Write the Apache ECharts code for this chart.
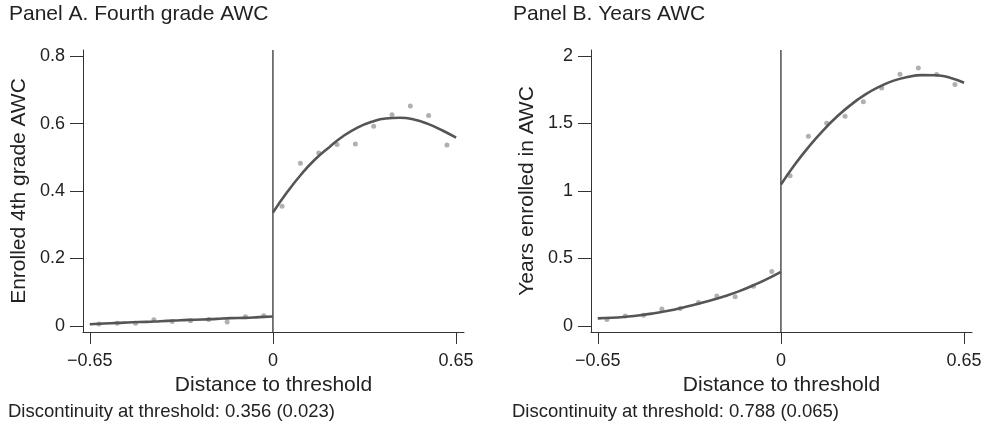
<!DOCTYPE html>
<html>
<head>
<meta charset="utf-8">
<script src="https://cdn.jsdelivr.net/npm/echarts@6/dist/echarts.min.js"></script>
<style>
  html, body { margin: 0; padding: 0; background: #fff; }
  #chart { width: 988px; height: 427px; }
</style>
</head>
<body>
<div id="chart"></div>
<script>
// ---------------- data ----------------
var binLeft  = [-0.6175, -0.5525, -0.4875, -0.4225, -0.3575, -0.2925, -0.2275, -0.1625, -0.0975, -0.0325];
var binRight = [0.0325, 0.0975, 0.1625, 0.2275, 0.2925, 0.3575, 0.4225, 0.4875, 0.5525, 0.6175];

// Panel A: enrolled 4th grade AWC (bin means)
var aLeftY  = [0.006, 0.008, 0.008, 0.018, 0.013, 0.015, 0.019, 0.012, 0.027, 0.030];
var aRightY = [0.355, 0.482, 0.513, 0.538, 0.539, 0.592, 0.626, 0.652, 0.624, 0.536];

// fitted curves, read every 0.05 along the drawn line
var fitLeftX  = [-0.65, -0.6, -0.55, -0.5, -0.45, -0.4, -0.35, -0.3, -0.25, -0.2, -0.15, -0.1, -0.05, 0];
var fitRightX = [0, 0.05, 0.1, 0.15, 0.2, 0.25, 0.3, 0.35, 0.4, 0.45, 0.5, 0.55, 0.6, 0.65];
var aFitLeftY  = [0.005, 0.007, 0.009, 0.011, 0.012, 0.014, 0.016, 0.018, 0.019, 0.021, 0.023, 0.024, 0.026, 0.028];
var aFitRightY = [0.336, 0.396, 0.449, 0.494, 0.530, 0.563, 0.588, 0.605, 0.615, 0.617, 0.612, 0.599, 0.580, 0.558];

// Panel B: years enrolled in AWC (bin means)
var bLeftY  = [0.047, 0.072, 0.079, 0.124, 0.129, 0.173, 0.220, 0.215, 0.292, 0.403];
var bRightY = [1.111, 1.405, 1.501, 1.553, 1.659, 1.761, 1.864, 1.909, 1.862, 1.788];
var bFitLeftY  = [0.055, 0.059, 0.067, 0.078, 0.093, 0.111, 0.134, 0.160, 0.188, 0.219, 0.255, 0.298, 0.346, 0.400];
var bFitRightY = [1.047, 1.196, 1.329, 1.448, 1.552, 1.640, 1.714, 1.772, 1.816, 1.844, 1.857, 1.856, 1.838, 1.800];

var xTicks  = [-0.65, 0, 0.65];
var aYTicks = [0, 0.2, 0.4, 0.6, 0.8];
var bYTicks = [0, 0.5, 1, 1.5, 2];

// ---------------- helpers ----------------
function pairs(xs, ys) {
    var out = [];
    for (var i = 0; i < xs.length; i++) out.push([xs[i], ys[i]]);
    return out;
}

var FONT = '"Liberation Sans", Arial, Helvetica, sans-serif';
var TXT = '#222';
var AXC = '#333';

function xAxisCfg(gridIndex) {
    return {
        gridIndex: gridIndex,
        type: 'value',
        min: -0.674, max: 0.678,
        name: 'Distance to threshold',
        nameLocation: 'middle',
        nameGap: 37,
        nameTextStyle: { fontFamily: FONT, fontSize: 21, color: TXT },
        axisLine: { show: true, onZero: false, lineStyle: { color: AXC, width: 1 } },
        axisTick: { show: true, length: 12, customValues: xTicks, lineStyle: { color: AXC } },
        axisLabel: {
            customValues: xTicks, margin: 20,
            fontFamily: FONT, fontSize: 18, color: TXT,
            formatter: function (v) { return String(v).replace('-', '\u2212'); }
        },
        splitLine: { show: false }
    };
}

function yAxisCfg(gridIndex, min, max, ticks, name) {
    return {
        gridIndex: gridIndex,
        type: 'value',
        min: min, max: max,
        name: name,
        nameLocation: 'middle',
        nameGap: 53,
        nameTextStyle: { fontFamily: FONT, fontSize: 21, color: TXT },
        axisLine: { show: true, onZero: false, lineStyle: { color: AXC, width: 1 } },
        axisTick: { show: true, length: 13, customValues: ticks, lineStyle: { color: AXC } },
        axisLabel: {
            customValues: ticks, margin: 18,
            fontFamily: FONT, fontSize: 18, color: TXT
        },
        splitLine: { show: false }
    };
}

function dots(idx, xs, ys) {
    return {
        type: 'scatter', xAxisIndex: idx, yAxisIndex: idx,
        data: pairs(xs, ys), symbolSize: 5,
        itemStyle: { color: '#9c9c9c' }, z: 3, silent: true
    };
}
function fit(idx, xs, ys) {
    return {
        type: 'line', xAxisIndex: idx, yAxisIndex: idx,
        data: pairs(xs, ys), smooth: true, showSymbol: false,
        lineStyle: { color: '#555', width: 2.6 }, z: 4, silent: true
    };
}
function cutoff(idx, ymin, ymax) {
    return {
        type: 'line', xAxisIndex: idx, yAxisIndex: idx,
        data: [[0, ymin], [0, ymax]], showSymbol: false,
        lineStyle: { color: '#222', width: 1.2 }, z: 2, silent: true
    };
}

var chart = echarts.init(document.getElementById('chart'));

var option = {
    backgroundColor: '#fff',
    animation: false,
    grid: [
        { left: 83, top: 50, width: 381, height: 282 },
        { left: 591, top: 50, width: 381, height: 282 }
    ],
    xAxis: [xAxisCfg(0), xAxisCfg(1)],
    yAxis: [
        yAxisCfg(0, -0.018, 0.818, aYTicks, 'Enrolled 4th grade AWC'),
        yAxisCfg(1, -0.046, 2.043, bYTicks, 'Years enrolled in AWC')
    ],
    series: [
        cutoff(0, -0.018, 0.818),
        dots(0, binLeft, aLeftY),
        dots(0, binRight, aRightY),
        fit(0, fitLeftX, aFitLeftY),
        fit(0, fitRightX, aFitRightY),
        cutoff(1, -0.046, 2.043),
        dots(1, binLeft, bLeftY),
        dots(1, binRight, bRightY),
        fit(1, fitLeftX, bFitLeftY),
        fit(1, fitRightX, bFitRightY)
    ],
    graphic: [
        { type: 'text', left: 9, top: 4, style: { text: 'Panel A. Fourth grade AWC', font: '21px ' + FONT, fill: TXT } },
        { type: 'text', left: 513, top: 4, style: { text: 'Panel B. Years AWC', font: '21px ' + FONT, fill: TXT } },
        { type: 'text', left: 8, top: 402, style: { text: 'Discontinuity at threshold: 0.356 (0.023)', font: '18.5px ' + FONT, fill: TXT } },
        { type: 'text', left: 512, top: 402, style: { text: 'Discontinuity at threshold: 0.788 (0.065)', font: '18.5px ' + FONT, fill: TXT } }
    ]
};

chart.setOption(option);
</script>
</body>
</html>
